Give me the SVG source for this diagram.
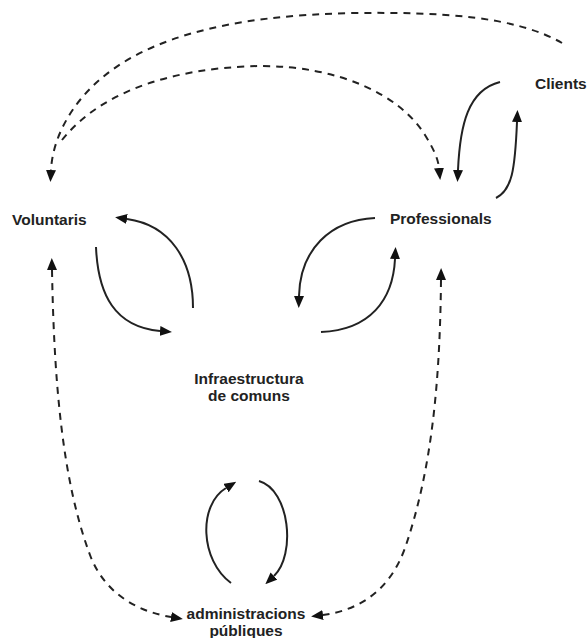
<svg xmlns="http://www.w3.org/2000/svg" width="588" height="638" viewBox="0 0 588 638">
<style>
.lbl{font-family:"Liberation Sans",Arial,sans-serif;font-weight:bold;font-size:15.5px;fill:#222}
.c{fill:none;stroke:#222;stroke-width:2}
.d{fill:none;stroke:#222;stroke-width:2;stroke-dasharray:7 6}
</style>
<defs>
<marker id="arr" viewBox="0 0 12 10" refX="0" refY="5" markerWidth="12" markerHeight="10" markerUnits="userSpaceOnUse" orient="auto-start-reverse">
<path d="M0,0 L12,5 L0,10 z" fill="#111"/>
</marker>
</defs>
<rect width="588" height="638" fill="#fff"/>
<g id="connectors">
<path class="d" d="M 562 43 C 515 16, 440 12, 356 13 C 230 15, 130 38, 80 100 C 60 125, 52 150, 51 170" marker-end="url(#arr)"/>
<path class="d" d="M 62 140 C 110 80, 200 67, 260 66 C 340 66, 400 95, 425 135 C 433 148, 438 158, 439 168" marker-end="url(#arr)"/>
<path class="c" d="M 500 82 C 468 90, 460 125, 458 170" marker-end="url(#arr)"/>
<path class="c" d="M 496 198 C 512 190, 515 170, 517 122" marker-end="url(#arr)"/>
<path class="c" d="M 96 247 C 98 295, 115 327, 160 331" marker-end="url(#arr)"/>
<path class="c" d="M 193 308 C 193 260, 170 225, 127 219" marker-end="url(#arr)"/>
<path class="c" d="M 375 218 C 330 220, 300 250, 299 296" marker-end="url(#arr)"/>
<path class="c" d="M 321 332 C 370 330, 393 300, 395 259" marker-end="url(#arr)"/>
<path class="d" d="M 52 270 C 54 380, 62 480, 90 555 C 105 595, 140 612, 171 617" marker-start="url(#arr)" marker-end="url(#arr)"/>
<path class="d" d="M 441 280 C 440 380, 432 470, 405 548 C 390 590, 360 610, 323 615" marker-start="url(#arr)" marker-end="url(#arr)"/>
<path class="c" d="M 231 583 C 200 560, 198 505, 226 488" marker-end="url(#arr)"/>
<path class="c" d="M 259 481 C 290 490, 296 555, 274 576" marker-end="url(#arr)"/>
</g>
<g id="clients"><text class="lbl" x="535" y="89">Clients</text></g>
<g id="professionals"><text class="lbl" x="390" y="224">Professionals</text></g>
<g id="voluntaris"><text class="lbl" x="12" y="225">Voluntaris</text></g>
<g id="infraestructura"><text class="lbl" text-anchor="middle" x="249" y="384">Infraestructura</text><text class="lbl" text-anchor="middle" x="249" y="401">de comuns</text></g>
<g id="administracions"><text class="lbl" text-anchor="middle" x="246" y="619">administracions</text><text class="lbl" text-anchor="middle" x="246" y="636">públiques</text></g>
</svg>
